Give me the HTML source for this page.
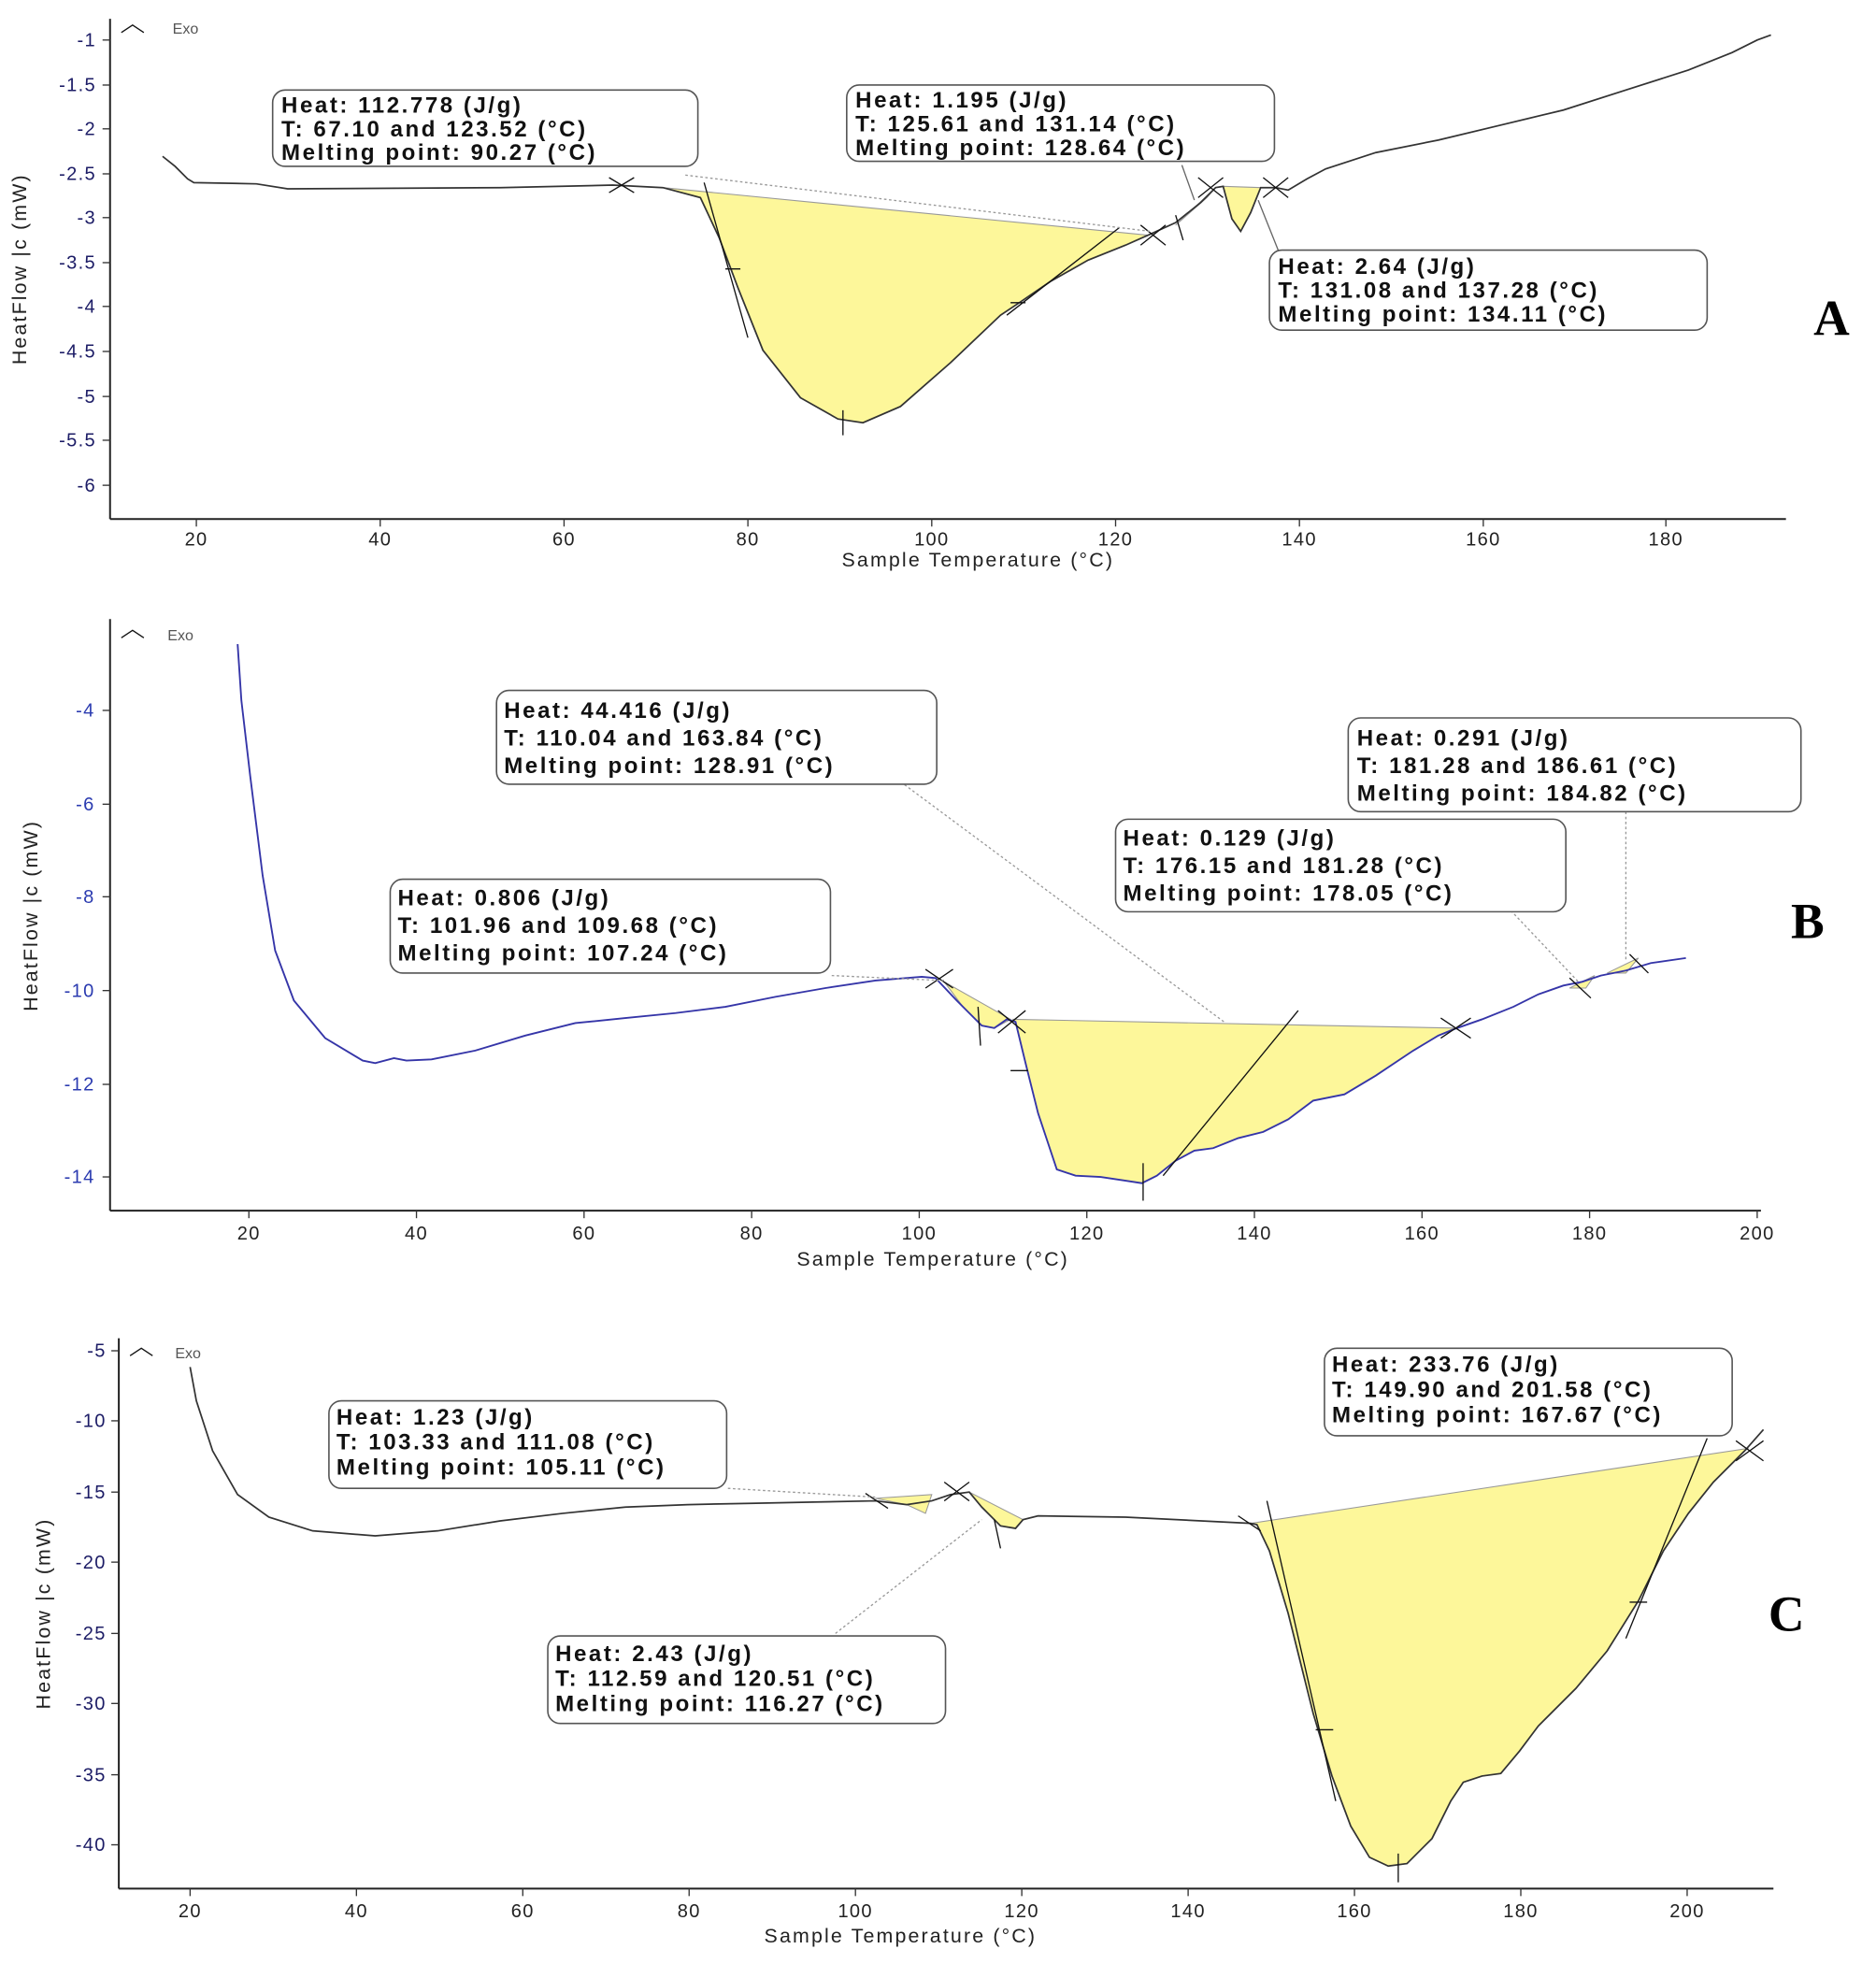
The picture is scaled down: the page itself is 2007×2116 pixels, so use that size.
<!DOCTYPE html>
<html><head><meta charset="utf-8"><style>html,body{margin:0;padding:0;background:#fff}svg{display:block}</style></head>
<body>
<svg width="2007" height="2116" viewBox="0 0 1500 1581.5" preserveAspectRatio="none" xmlns="http://www.w3.org/2000/svg" font-family="Liberation Sans, sans-serif">
<style>
.tk{font-size:15px;fill:#1c1c66;text-anchor:end;letter-spacing:1px}
.xt{font-size:15px;fill:#222;text-anchor:middle;letter-spacing:1px}
.ax{stroke:#222;stroke-width:1.5;fill:none}
.bx{fill:#fff;stroke:#555;stroke-width:1.2}
.bt{font-size:18px;font-weight:bold;fill:#111;letter-spacing:1.9px}
.al{font-size:16px;fill:#222;letter-spacing:1.6px}
.fill{fill:#fdf79a;stroke:#999;stroke-width:0.8}
.cur{fill:none;stroke:#333;stroke-width:1.3}
.blue{fill:none;stroke:#3535a8;stroke-width:1.4}
.ln{stroke:#111;stroke-width:1;fill:none}
.dot{stroke:#999;stroke-width:1;stroke-dasharray:2 2;fill:none}
.lbl{font-family:"Liberation Serif",serif;font-weight:bold;font-size:40px;fill:#000}
</style>

<!-- ============ PANEL A ============ -->
<g>
<line class="ax" x1="88" y1="15" x2="88" y2="415"/>
<line class="ax" x1="88" y1="415" x2="1428" y2="415"/>
<g stroke="#333" stroke-width="1">
<line x1="82" y1="32" x2="88" y2="32"/><line x1="82" y1="68" x2="88" y2="68"/><line x1="82" y1="103" x2="88" y2="103"/><line x1="82" y1="139" x2="88" y2="139"/><line x1="82" y1="174" x2="88" y2="174"/><line x1="82" y1="210" x2="88" y2="210"/><line x1="82" y1="245" x2="88" y2="245"/><line x1="82" y1="281" x2="88" y2="281"/><line x1="82" y1="317" x2="88" y2="317"/><line x1="82" y1="352" x2="88" y2="352"/><line x1="82" y1="388" x2="88" y2="388"/>
<line x1="157" y1="415" x2="157" y2="421"/><line x1="304" y1="415" x2="304" y2="421"/><line x1="451" y1="415" x2="451" y2="421"/><line x1="598" y1="415" x2="598" y2="421"/><line x1="745" y1="415" x2="745" y2="421"/><line x1="892" y1="415" x2="892" y2="421"/><line x1="1039" y1="415" x2="1039" y2="421"/><line x1="1186" y1="415" x2="1186" y2="421"/><line x1="1332" y1="415" x2="1332" y2="421"/>
</g>
<text class="tk" x="77" y="37">-1</text><text class="tk" x="77" y="73">-1.5</text><text class="tk" x="77" y="108">-2</text><text class="tk" x="77" y="144">-2.5</text><text class="tk" x="77" y="179">-3</text><text class="tk" x="77" y="215">-3.5</text><text class="tk" x="77" y="250">-4</text><text class="tk" x="77" y="286">-4.5</text><text class="tk" x="77" y="322">-5</text><text class="tk" x="77" y="357">-5.5</text><text class="tk" x="77" y="393">-6</text>
<text class="xt" x="157" y="436">20</text><text class="xt" x="304" y="436">40</text><text class="xt" x="451" y="436">60</text><text class="xt" x="598" y="436">80</text><text class="xt" x="745" y="436">100</text><text class="xt" x="892" y="436">120</text><text class="xt" x="1039" y="436">140</text><text class="xt" x="1186" y="436">160</text><text class="xt" x="1332" y="436">180</text>
<text class="al" x="782" y="453" text-anchor="middle">Sample Temperature (°C)</text>
<text class="al" transform="translate(21,215) rotate(-90)" text-anchor="middle">HeatFlow |c (mW)</text>
<path d="M97,26 L106,20 L115,26" class="ln" stroke="#555"/><text x="138" y="27" font-size="12" fill="#555">Exo</text>

<path class="fill" d="M530,150 L560,158 L575,190 L590,230 L610,280 L640,318 L670,335 L690,338 L720,325 L760,290 L800,252 L815,242 L840,225 L870,208 L900,196 L918,188 Z"/>
<path class="fill" d="M940,180 L965,158 L972,150 Z"/>
<path class="fill" d="M978,149 L985,175 L992,185 L1000,170 L1008,150 Z"/>
<path class="cur" d="M130,125 L140,133 L150,143 L155,146 L205,147 L230,151 L400,150 L490,148 L530,150 L560,158 L575,190 L590,230 L610,280 L640,318 L670,335 L690,338 L720,325 L760,290 L800,252 L815,242 L840,225 L870,208 L900,196 L918,188 L940,178 L960,162 L972,150 L978,149 L985,175 L992,185 L1000,170 L1008,150 L1020,150 L1030,152 L1045,143 L1060,135 L1100,122 L1150,112 L1200,100 L1250,88 L1300,72 L1350,56 L1385,42 L1405,32 L1416,28"/>
<line class="ln" x1="563" y1="146" x2="598" y2="270"/>
<line class="ln" x1="805" y1="252" x2="895" y2="182"/>
<line class="ln" x1="674" y1="328" x2="674" y2="348"/>
<line class="ln" x1="580" y1="215" x2="592" y2="215"/>
<line class="ln" x1="808" y1="242" x2="820" y2="242"/>
<path class="ln" d="M487,142 L507,154 M487,154 L507,142 M912,180 L932,196 M912,196 L932,180 M958,142 L978,158 M958,158 L978,142 M1010,142 L1030,158 M1010,158 L1030,142 M940,172 L946,192"/>
<path class="dot" d="M548,140 L920,185"/>
<line x1="945" y1="132" x2="955" y2="160" stroke="#666"/>
<line x1="1006" y1="160" x2="1022" y2="200" stroke="#666"/>
<rect class="bx" x="218" y="72" width="340" height="61" rx="10"/>
<text class="bt" x="225" y="90">Heat: 112.778 (J/g)</text><text class="bt" x="225" y="109">T: 67.10 and 123.52 (°C)</text><text class="bt" x="225" y="128">Melting point: 90.27 (°C)</text>
<rect class="bx" x="677" y="68" width="342" height="61" rx="10"/>
<text class="bt" x="684" y="86">Heat: 1.195 (J/g)</text><text class="bt" x="684" y="105">T: 125.61 and 131.14 (°C)</text><text class="bt" x="684" y="124">Melting point: 128.64 (°C)</text>
<rect class="bx" x="1015" y="200" width="350" height="64" rx="10"/>
<text class="bt" x="1022" y="219">Heat: 2.64 (J/g)</text><text class="bt" x="1022" y="238">T: 131.08 and 137.28 (°C)</text><text class="bt" x="1022" y="257">Melting point: 134.11 (°C)</text>
<text class="lbl" x="1450" y="268">A</text>
</g>

<!-- ============ PANEL B ============ -->
<g>
<line class="ax" x1="88" y1="495" x2="88" y2="968"/>
<line class="ax" x1="88" y1="968" x2="1408" y2="968"/>
<g stroke="#333" stroke-width="1">
<line x1="82" y1="568" x2="88" y2="568"/><line x1="82" y1="643" x2="88" y2="643"/><line x1="82" y1="717" x2="88" y2="717"/><line x1="82" y1="792" x2="88" y2="792"/><line x1="82" y1="867" x2="88" y2="867"/><line x1="82" y1="941" x2="88" y2="941"/>
<line x1="199" y1="968" x2="199" y2="974"/><line x1="333" y1="968" x2="333" y2="974"/><line x1="467" y1="968" x2="467" y2="974"/><line x1="601" y1="968" x2="601" y2="974"/><line x1="735" y1="968" x2="735" y2="974"/><line x1="869" y1="968" x2="869" y2="974"/><line x1="1003" y1="968" x2="1003" y2="974"/><line x1="1137" y1="968" x2="1137" y2="974"/><line x1="1271" y1="968" x2="1271" y2="974"/><line x1="1405" y1="968" x2="1405" y2="974"/>
</g>
<g style="fill:#2b3bb0">
<text class="tk" x="76" y="573" style="fill:#2b3bb0">-4</text><text class="tk" x="76" y="648" style="fill:#2b3bb0">-6</text><text class="tk" x="76" y="722" style="fill:#2b3bb0">-8</text><text class="tk" x="76" y="797" style="fill:#2b3bb0">-10</text><text class="tk" x="76" y="872" style="fill:#2b3bb0">-12</text><text class="tk" x="76" y="946" style="fill:#2b3bb0">-14</text>
</g>
<text class="xt" x="199" y="991">20</text><text class="xt" x="333" y="991">40</text><text class="xt" x="467" y="991">60</text><text class="xt" x="601" y="991">80</text><text class="xt" x="735" y="991">100</text><text class="xt" x="869" y="991">120</text><text class="xt" x="1003" y="991">140</text><text class="xt" x="1137" y="991">160</text><text class="xt" x="1271" y="991">180</text><text class="xt" x="1405" y="991">200</text>
<text class="al" x="746" y="1012" text-anchor="middle">Sample Temperature (°C)</text>
<text class="al" transform="translate(30,732) rotate(-90)" text-anchor="middle">HeatFlow |c (mW)</text>
<path d="M97,510 L106,504 L115,510" class="ln" stroke="#555"/><text x="134" y="512" font-size="12" fill="#555">Exo</text>

<path class="fill" d="M810,815 L1163,822 L1150,828 L1130,840 L1100,860 L1075,875 L1050,880 L1030,895 L1010,905 L990,910 L970,918 L955,920 L940,928 L925,940 L913,946 L900,944 L880,941 L860,940 L845,935 L830,890 L820,850 L812,817 Z"/>
<path class="fill" d="M755,785 L808,815 L795,822 L785,820 L770,805 Z"/>
<path class="fill" d="M1255,790 L1275,780 L1268,790 Z"/>
<path class="fill" d="M1285,778 L1310,766 L1300,778 Z"/>
<path class="blue" d="M190,515 L193,560 L200,620 L210,700 L220,760 L235,800 L260,830 L290,848 L300,850 L315,846 L325,848 L345,847 L380,840 L420,828 L460,818 L500,814 L540,810 L580,805 L620,797 L660,790 L700,784 L737,781 L748,782 L765,800 L785,820 L795,822 L805,815 L812,817 L820,850 L830,890 L845,935 L860,940 L880,941 L900,944 L913,946 L925,940 L940,928 L955,920 L970,918 L990,910 L1010,905 L1030,895 L1050,880 L1075,875 L1100,860 L1130,840 L1150,828 L1165,822 L1185,815 L1210,805 L1230,795 L1250,788 L1265,785 L1280,780 L1300,776 L1320,770 L1348,766"/>
<line class="ln" x1="930" y1="940" x2="1038" y2="808"/>
<line class="ln" x1="914" y1="930" x2="914" y2="960"/>
<line class="ln" x1="808" y1="856" x2="822" y2="856"/>
<line class="ln" x1="782" y1="805" x2="784" y2="836"/>
<path class="ln" d="M740,775 L762,790 M740,790 L762,775 M798,808 L820,826 M798,826 L820,808 M1152,814 L1176,830 M1152,830 L1176,814 M1255,782 L1272,798 M1303,763 L1318,778"/>
<path class="dot" d="M720,625 L980,818 M665,780 L755,784 M1208,728 L1262,785 M1300,645 L1300,768" stroke="#b88"/>
<rect class="bx" x="397" y="552" width="352" height="75" rx="10"/>
<text class="bt" x="403" y="574">Heat: 44.416 (J/g)</text><text class="bt" x="403" y="596">T: 110.04 and 163.84 (°C)</text><text class="bt" x="403" y="618">Melting point: 128.91 (°C)</text>
<rect class="bx" x="1078" y="574" width="362" height="75" rx="10"/>
<text class="bt" x="1085" y="596">Heat: 0.291 (J/g)</text><text class="bt" x="1085" y="618">T: 181.28 and 186.61 (°C)</text><text class="bt" x="1085" y="640">Melting point: 184.82 (°C)</text>
<rect class="bx" x="892" y="655" width="360" height="74" rx="10"/>
<text class="bt" x="898" y="676">Heat: 0.129 (J/g)</text><text class="bt" x="898" y="698">T: 176.15 and 181.28 (°C)</text><text class="bt" x="898" y="720">Melting point: 178.05 (°C)</text>
<rect class="bx" x="312" y="703" width="352" height="75" rx="10"/>
<text class="bt" x="318" y="724">Heat: 0.806 (J/g)</text><text class="bt" x="318" y="746">T: 101.96 and 109.68 (°C)</text><text class="bt" x="318" y="768">Melting point: 107.24 (°C)</text>
<text class="lbl" x="1432" y="750">B</text>
</g>

<!-- ============ PANEL C ============ -->
<g>
<line class="ax" x1="95" y1="1070" x2="95" y2="1510"/>
<line class="ax" x1="95" y1="1510" x2="1418" y2="1510"/>
<g stroke="#333" stroke-width="1">
<line x1="89" y1="1080" x2="95" y2="1080"/><line x1="89" y1="1136" x2="95" y2="1136"/><line x1="89" y1="1193" x2="95" y2="1193"/><line x1="89" y1="1249" x2="95" y2="1249"/><line x1="89" y1="1306" x2="95" y2="1306"/><line x1="89" y1="1362" x2="95" y2="1362"/><line x1="89" y1="1419" x2="95" y2="1419"/><line x1="89" y1="1475" x2="95" y2="1475"/>
<line x1="152" y1="1510" x2="152" y2="1516"/><line x1="285" y1="1510" x2="285" y2="1516"/><line x1="418" y1="1510" x2="418" y2="1516"/><line x1="551" y1="1510" x2="551" y2="1516"/><line x1="684" y1="1510" x2="684" y2="1516"/><line x1="817" y1="1510" x2="817" y2="1516"/><line x1="950" y1="1510" x2="950" y2="1516"/><line x1="1083" y1="1510" x2="1083" y2="1516"/><line x1="1216" y1="1510" x2="1216" y2="1516"/><line x1="1349" y1="1510" x2="1349" y2="1516"/>
</g>
<text class="tk" x="85" y="1085">-5</text><text class="tk" x="85" y="1141">-10</text><text class="tk" x="85" y="1198">-15</text><text class="tk" x="85" y="1254">-20</text><text class="tk" x="85" y="1311">-25</text><text class="tk" x="85" y="1367">-30</text><text class="tk" x="85" y="1424">-35</text><text class="tk" x="85" y="1480">-40</text>
<text class="xt" x="152" y="1533">20</text><text class="xt" x="285" y="1533">40</text><text class="xt" x="418" y="1533">60</text><text class="xt" x="551" y="1533">80</text><text class="xt" x="684" y="1533">100</text><text class="xt" x="817" y="1533">120</text><text class="xt" x="950" y="1533">140</text><text class="xt" x="1083" y="1533">160</text><text class="xt" x="1216" y="1533">180</text><text class="xt" x="1349" y="1533">200</text>
<text class="al" x="720" y="1553" text-anchor="middle">Sample Temperature (°C)</text>
<text class="al" transform="translate(40,1290) rotate(-90)" text-anchor="middle">HeatFlow |c (mW)</text>
<path d="M104,1084 L113,1078 L122,1084" class="ln" stroke="#555"/><text x="140" y="1086" font-size="12" fill="#555">Exo</text>

<path class="fill" d="M1000,1218 L1398,1158 L1395,1160 L1370,1185 L1350,1210 L1330,1240 L1310,1280 L1285,1320 L1260,1350 L1230,1380 L1215,1400 L1200,1418 L1185,1420 L1170,1425 L1160,1440 L1145,1470 L1125,1490 L1110,1492 L1095,1485 L1080,1460 L1065,1420 L1050,1370 L1030,1290 L1015,1240 L1005,1219 Z"/>
<path class="fill" d="M700,1198 L745,1195 L740,1210 L725,1203 Z"/>
<path class="fill" d="M775,1193 L818,1215 L812,1222 L800,1220 L785,1205 Z"/>
<path class="cur" d="M152,1093 L157,1120 L170,1160 L190,1195 L215,1213 L250,1224 L300,1228 L350,1224 L400,1216 L450,1210 L500,1205 L550,1203 L600,1202 L650,1201 L700,1200 L725,1203 L745,1200 L760,1195 L775,1193 L785,1205 L800,1220 L812,1222 L818,1215 L830,1212 L900,1213 L1000,1218 L1005,1219 L1015,1240 L1030,1290 L1050,1370 L1065,1420 L1080,1460 L1095,1485 L1110,1492 L1125,1490 L1145,1470 L1160,1440 L1170,1425 L1185,1420 L1200,1418 L1215,1400 L1230,1380 L1260,1350 L1285,1320 L1310,1280 L1330,1240 L1350,1210 L1370,1185 L1395,1160 L1410,1143"/>
<line class="ln" x1="1013" y1="1200" x2="1068" y2="1440"/>
<line class="ln" x1="1300" y1="1310" x2="1365" y2="1150"/>
<line class="ln" x1="1118" y1="1482" x2="1118" y2="1505"/>
<line class="ln" x1="1052" y1="1383" x2="1066" y2="1383"/>
<line class="ln" x1="1303" y1="1281" x2="1317" y2="1281"/>
<path class="ln" d="M1388,1152 L1410,1168 M1388,1168 L1410,1152 M990,1212 L1008,1224 M692,1194 L710,1206 M755,1185 L775,1200 M755,1200 L775,1185 M795,1215 L800,1238"/>
<path class="dot" d="M582,1190 L700,1197 M668,1306 L785,1215"/>
<rect class="bx" x="1059" y="1078" width="326" height="70" rx="10"/>
<text class="bt" x="1065" y="1097">Heat: 233.76 (J/g)</text><text class="bt" x="1065" y="1117">T: 149.90 and 201.58 (°C)</text><text class="bt" x="1065" y="1137">Melting point: 167.67 (°C)</text>
<rect class="bx" x="263" y="1120" width="318" height="70" rx="10"/>
<text class="bt" x="269" y="1139">Heat: 1.23 (J/g)</text><text class="bt" x="269" y="1159">T: 103.33 and 111.08 (°C)</text><text class="bt" x="269" y="1179">Melting point: 105.11 (°C)</text>
<rect class="bx" x="438" y="1308" width="318" height="70" rx="10"/>
<text class="bt" x="444" y="1328">Heat: 2.43 (J/g)</text><text class="bt" x="444" y="1348">T: 112.59 and 120.51 (°C)</text><text class="bt" x="444" y="1368">Melting point: 116.27 (°C)</text>
<text class="lbl" x="1414" y="1304">C</text>
</g>
</svg>
</body></html>
